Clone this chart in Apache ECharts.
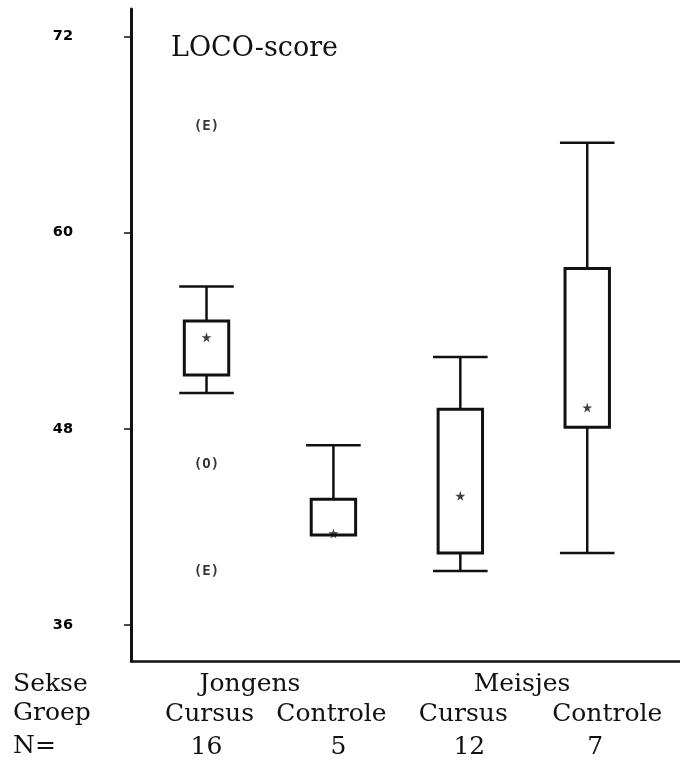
<!DOCTYPE html>
<html>
<head>
<meta charset="utf-8">
<script src="https://cdn.jsdelivr.net/npm/echarts@6/dist/echarts.min.js"></script>
<style>html,body{margin:0;padding:0;background:#fff}#c{width:680px;height:773px}</style>
</head>
<body>
<div id="c"></div>
<script>
// ---- data ----
const groepen = ['Cursus', 'Controle', 'Cursus', 'Controle'];
const sekse = ['Jongens', 'Meisjes'];
const nValues = [16, 5, 12, 7];
const whiskerLow = [50.2, 41.5, 39.3, 40.4];
const q1 = [51.3, 41.5, 40.4, 48.1];
const q3 = [54.6, 43.7, 49.2, 57.8];
const whiskerHigh = [56.7, 47.0, 52.4, 65.5];
const means = [53.6, 41.6, 43.9, 49.3];
const outliers = [[1, 66.5, '(E)'], [1, 45.8, '(O)'], [1, 39.3, '(E)']];
const yTicks = [36, 48, 60, 72];
const positions = [1, 2, 3, 4];

const serif = 'DejaVu Serif';
const ink = '#111';
const starPath = 'path://M50,0 L61,35 L98,35 L68,57 L79,91 L50,70 L21,91 L32,57 L2,35 L39,35 Z';

const boxData = positions.map((p, i) => [p, whiskerLow[i], q1[i], q3[i], whiskerHigh[i]]);
const meanData = positions.map((p, i) => [p, means[i]]);

const chart = echarts.init(document.getElementById('c'), null, {renderer: 'canvas'});

const groepRich = {};
const nRich = {};
const gPad = [6, -4, 6, 40];
const nPad = [0, 10, 18, 16];
positions.forEach((p, i) => {
  groepRich['g' + i] = {fontFamily: serif, fontSize: 25, color: ink, lineHeight: 33,
    padding: gPad[i] >= 0 ? [0, 0, 0, gPad[i]] : [0, -gPad[i], 0, 0]};
  nRich['n' + i] = {fontFamily: serif, fontSize: 25, color: ink, lineHeight: 33,
    padding: [0, 0, 0, nPad[i]]};
});

chart.setOption({
  animation: false,
  backgroundColor: '#fff',
  grid: {left: 131, right: 0, top: 9, bottom: 112},
  title: {
    text: 'LOCO-score', left: 166, top: 30,
    textStyle: {fontFamily: serif, fontSize: 27, fontWeight: 'normal', color: ink}
  },
  xAxis: {
    type: 'value', min: 0.405, max: 4.731,
    splitLine: {show: false},
    axisLine: {show: true, onZero: false, lineStyle: {color: ink, width: 2.5}},
    axisTick: {show: false},
    axisLabel: {
      customValues: positions, margin: 37,
      formatter: (v) => {
        const i = Math.round(v) - 1;
        return '{g' + i + '|' + groepen[i] + '}\n{n' + i + '|' + nValues[i] + '}';
      },
      rich: Object.assign({}, groepRich, nRich)
    }
  },
  yAxis: {
    type: 'value', min: 33.8, max: 73.68,
    splitLine: {show: false},
    axisLine: {show: true, onZero: false, lineStyle: {color: ink, width: 3}},
    axisTick: {show: true, customValues: yTicks, length: 7, lineStyle: {color: ink, width: 1.5}},
    axisLabel: {customValues: yTicks, margin: 58, fontFamily: 'DejaVu Sans', fontWeight: 'bold',
      fontSize: 14.5, color: '#000'}
  },
  graphic: [
    {type: 'text', left: 13, top: 672, style: {text: 'Sekse', font: '25px "' + serif + '"', fill: ink}},
    {type: 'text', left: 13, top: 701, style: {text: 'Groep', font: '25px "' + serif + '"', fill: ink}},
    {type: 'text', left: 13, top: 734, style: {text: 'N=', font: '25px "' + serif + '"', fill: ink}},
    {type: 'text', x: 250, y: 672, style: {text: sekse[0], font: '25px "' + serif + '"', fill: ink, align: 'center'}},
    {type: 'text', x: 522, y: 672, style: {text: sekse[1], font: '25px "' + serif + '"', fill: ink, align: 'center'}}
  ],
  series: [
    {
      type: 'custom',
      data: boxData,
      encode: {x: 0, y: [1, 2, 3, 4]},
      renderItem: (params, api) => {
        const x = api.value(0);
        const lo = api.coord([x, api.value(1)]);
        const b1 = api.coord([x, api.value(2)]);
        const b3 = api.coord([x, api.value(3)]);
        const hi = api.coord([x, api.value(4)]);
        const bw = api.size([0.35, 0])[0];
        const cw = api.size([0.43, 0])[0];
        const cx = lo[0];
        const ls = {stroke: ink, lineWidth: 2.5, fill: null};
        const children = [
          {type: 'line', shape: {x1: cx, y1: hi[1], x2: cx, y2: b3[1]}, style: ls},
          {type: 'line', shape: {x1: cx, y1: b1[1], x2: cx, y2: lo[1]}, style: ls},
          {type: 'line', shape: {x1: cx - cw / 2, y1: hi[1], x2: cx + cw / 2, y2: hi[1]}, style: ls},
          {type: 'rect', shape: {x: cx - bw / 2, y: b3[1], width: bw, height: b1[1] - b3[1]},
            style: {stroke: ink, lineWidth: 3, fill: '#fff'}}
        ];
        if (Math.abs(lo[1] - b1[1]) > 1) {
          children.push({type: 'line', shape: {x1: cx - cw / 2, y1: lo[1], x2: cx + cw / 2, y2: lo[1]}, style: ls});
        }
        return {type: 'group', children: children};
      },
      z: 2
    },
    {
      type: 'scatter',
      data: meanData,
      symbol: starPath,
      symbolSize: 10,
      itemStyle: {color: ink},
      z: 3
    },
    {
      type: 'scatter',
      data: outliers.map(o => ({value: [o[0], o[1]], name: o[2]})),
      symbolSize: 0,
      label: {show: true, position: 'inside', formatter: '{b}', fontFamily: 'DejaVu Sans Mono',
        fontWeight: 'bold', fontSize: 14, color: '#000'},
      z: 3
    }
  ]
});
</script>
</body>
</html>
